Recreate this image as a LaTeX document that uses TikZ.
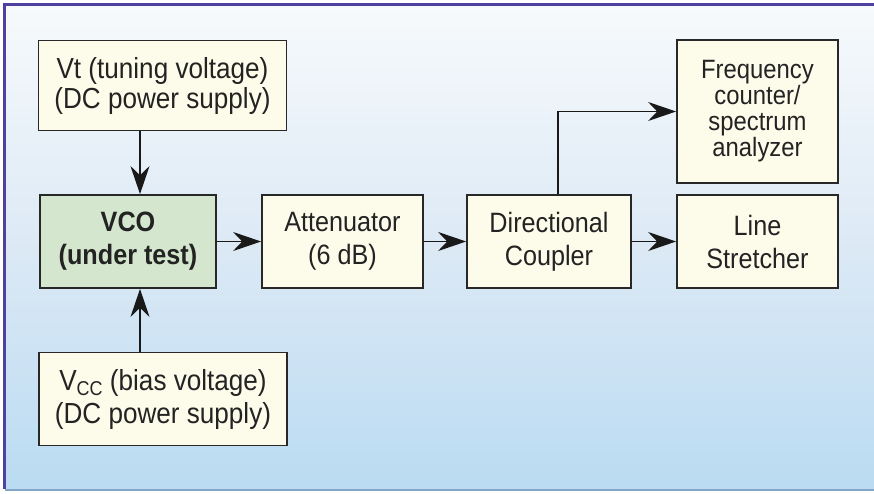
\documentclass[tikz,border=0pt]{standalone}
\usepackage{fontspec}
\setmainfont[FakeStretch=0.9]{Liberation Sans}
\usetikzlibrary{arrows.meta}
\definecolor{boxfill}{RGB}{253,251,234}
\definecolor{vcofill}{RGB}{212,231,206}
\definecolor{boxline}{RGB}{40,40,40}
\definecolor{textcol}{RGB}{35,35,35}
\definecolor{bgtop}{RGB}{247,250,252}
\definecolor{bgbot}{RGB}{186,219,242}
\definecolor{framepurple}{RGB}{80,64,160}
\definecolor{framebot}{RGB}{130,165,200}
\tikzset{
  blk/.style={draw=boxline, line width=1.8pt, fill=boxfill, align=center, inner sep=0pt,
    text=textcol, font={\fontsize{29}{30}\selectfont}},
  midrow/.style={font={\fontsize{28}{33}\selectfont}},
  arr/.style={draw=black!90, line width=1.6pt, -{Stealth[length=28pt,width=19pt]}},
}
\begin{document}
\begin{tikzpicture}[x=1pt,y=-1pt]
\useasboundingbox (0,0) rectangle (874,493);
\fill[white] (0,0) rectangle (874,493);
\shade[top color=bgtop, bottom color=bgbot, middle color={rgb,255:red,220;green,233;blue,245}] (5,5) rectangle (874,489);
\draw[framepurple, line width=2.2pt] (4.5,489) -- (4.5,4.5) -- (874,4.5);
\draw[framebot, line width=2pt] (4.5,489.5) -- (874,489.5);

\node[blk, minimum width=248, minimum height=90] (vt) at (162.5,85.5)
  {Vt (tuning voltage)\\(DC power supply)};
\node[blk, font={\fontsize{29}{33}\selectfont}, minimum width=248, minimum height=93] (vcc) at (163,399)
  {V\raisebox{-5pt}{\fontsize{20}{20}\selectfont CC} (bias voltage)\\(DC power supply)};
\node[blk, midrow, fill=vcofill, minimum width=176, minimum height=93] (vco) at (128,241.5)
  {\textbf{VCO}\\\textbf{(under test)}};
\node[blk, midrow, minimum width=161, minimum height=93] (att) at (342.5,241.5)
  {Attenuator\\(6 dB)};
\node[blk, midrow, minimum width=164, minimum height=93] (cpl) at (549,241.5)
  {Directional\\Coupler};
\node[blk, midrow, minimum width=161, minimum height=93] (ls) at (757.5,241.5)
  {Line\\Stretcher};
\node[blk, font={\fontsize{26.5}{26}\selectfont}, minimum width=161, minimum height=143] (freq) at (757.5,111.5)
  {Frequency\\counter/\\spectrum\\analyzer};

\draw[arr] ([xshift=12pt]vco.north |- vt.south) -- ([xshift=12pt]vco.north);
\draw[arr] ([xshift=12pt]vco.south |- vcc.north) -- ([xshift=12pt]vco.south);
\draw[arr] (vco.east) -- (att.west);
\draw[arr] (att.east) -- (cpl.west);
\draw[arr] (cpl.east) -- (ls.west);
\draw[arr] ([xshift=9pt]cpl.north) |- (freq.west);
\end{tikzpicture}
\end{document}
